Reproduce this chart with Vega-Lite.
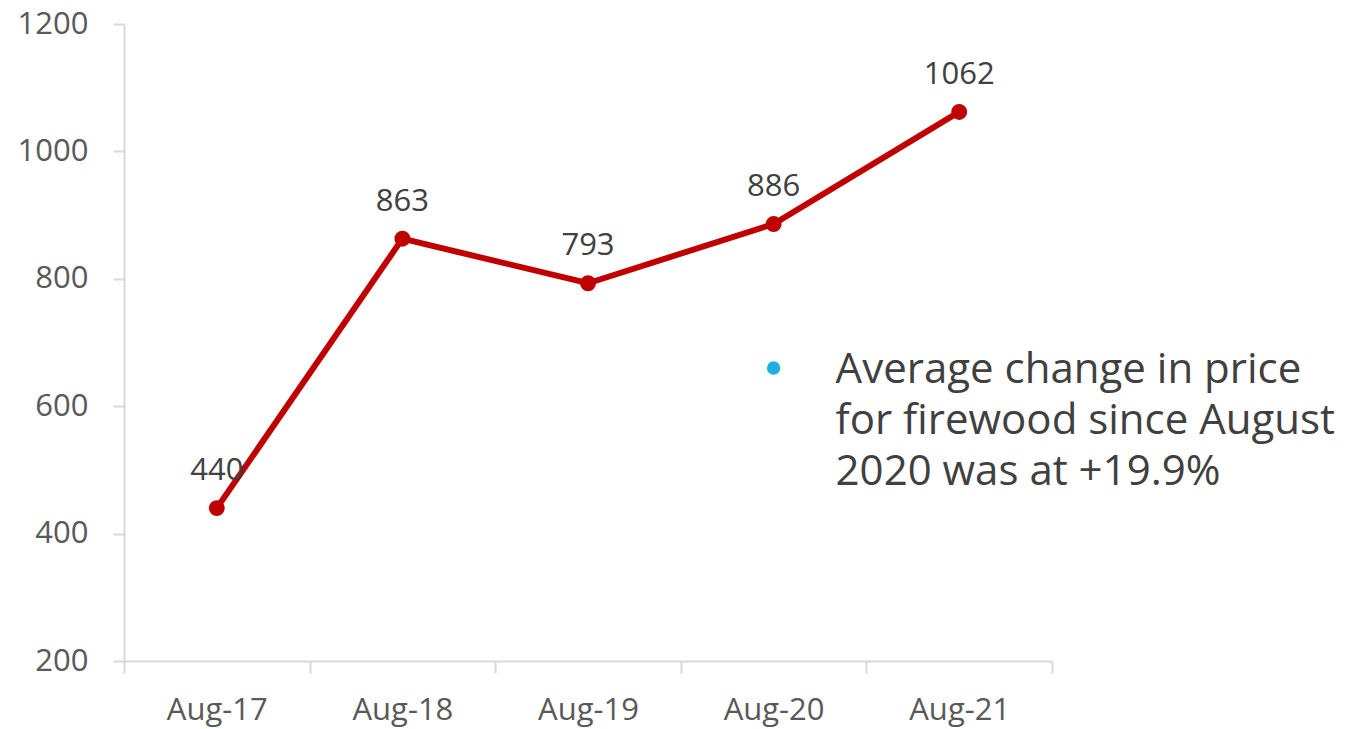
{
  "$schema": "https://vega.github.io/schema/vega-lite/v6.json",
  "width": 928,
  "height": 637,
  "autosize": {"type": "none"},
  "padding": {"left": 124, "top": 24, "right": 298, "bottom": 68},
  "background": "white",
  "config": {"view": {"stroke": null}, "font": "Open Sans"},
  "data": {"values": [
    {"month": "Aug-17", "price": 440},
    {"month": "Aug-18", "price": 863},
    {"month": "Aug-19", "price": 793},
    {"month": "Aug-20", "price": 886},
    {"month": "Aug-21", "price": 1062}
  ]},
  "encoding": {
    "x": {"field": "month", "type": "ordinal", "bandPosition": 0.5,
      "scale": {"type": "band", "paddingInner": 0, "paddingOuter": 0, "domain": ["Aug-17", "Aug-18", "Aug-19", "Aug-20", "Aug-21"]},
      "axis": {"title": null, "labelAngle": 0, "tickBand": "extent", "domainColor": "#D9D9D9", "domainWidth": 2, "tickColor": "#D9D9D9", "tickWidth": 2, "tickSize": 12, "labelPadding": 22, "labelFontSize": 31, "labelColor": "#595959", "labelFont": "Open Sans", "grid": false}},
    "y": {"field": "price", "type": "quantitative",
      "scale": {"domain": [200, 1200], "nice": false, "zero": false},
      "axis": {"title": null, "format": "d", "values": [200, 400, 600, 800, 1000, 1200], "domainColor": "#D9D9D9", "domainWidth": 2, "tickColor": "#D9D9D9", "tickWidth": 2, "tickSize": 11, "labelPadding": 25, "labelFontSize": 31, "labelColor": "#595959", "labelFont": "Open Sans", "grid": false}}
  },
  "layer": [
    {"mark": {"type": "line", "color": "#C00000", "strokeWidth": 6}},
    {"mark": {"type": "point", "filled": true, "color": "#C00000", "size": 254, "opacity": 1}},
    {"mark": {"type": "text", "dy": -28, "baseline": "alphabetic", "fontSize": 31, "color": "#404040", "font": "Open Sans"},
      "encoding": {"text": {"field": "price", "type": "quantitative", "format": "d"}}},
    {
      "data": {"values": [
        {"month": "Aug-20", "price": 660, "label": ["Average change in price", "for firewood since August", "2020 was at +19.9%"]}
      ]},
      "layer": [
        {"mark": {"type": "point", "filled": true, "color": "#1FADE4", "size": 177, "opacity": 1}},
        {"mark": {"type": "text", "align": "left", "baseline": "top", "dx": 62, "dy": -18, "fontSize": 42, "lineHeight": 51, "color": "#404040", "font": "Open Sans"},
          "encoding": {"text": {"field": "label", "type": "nominal"}}}
      ]
    }
  ]
}
